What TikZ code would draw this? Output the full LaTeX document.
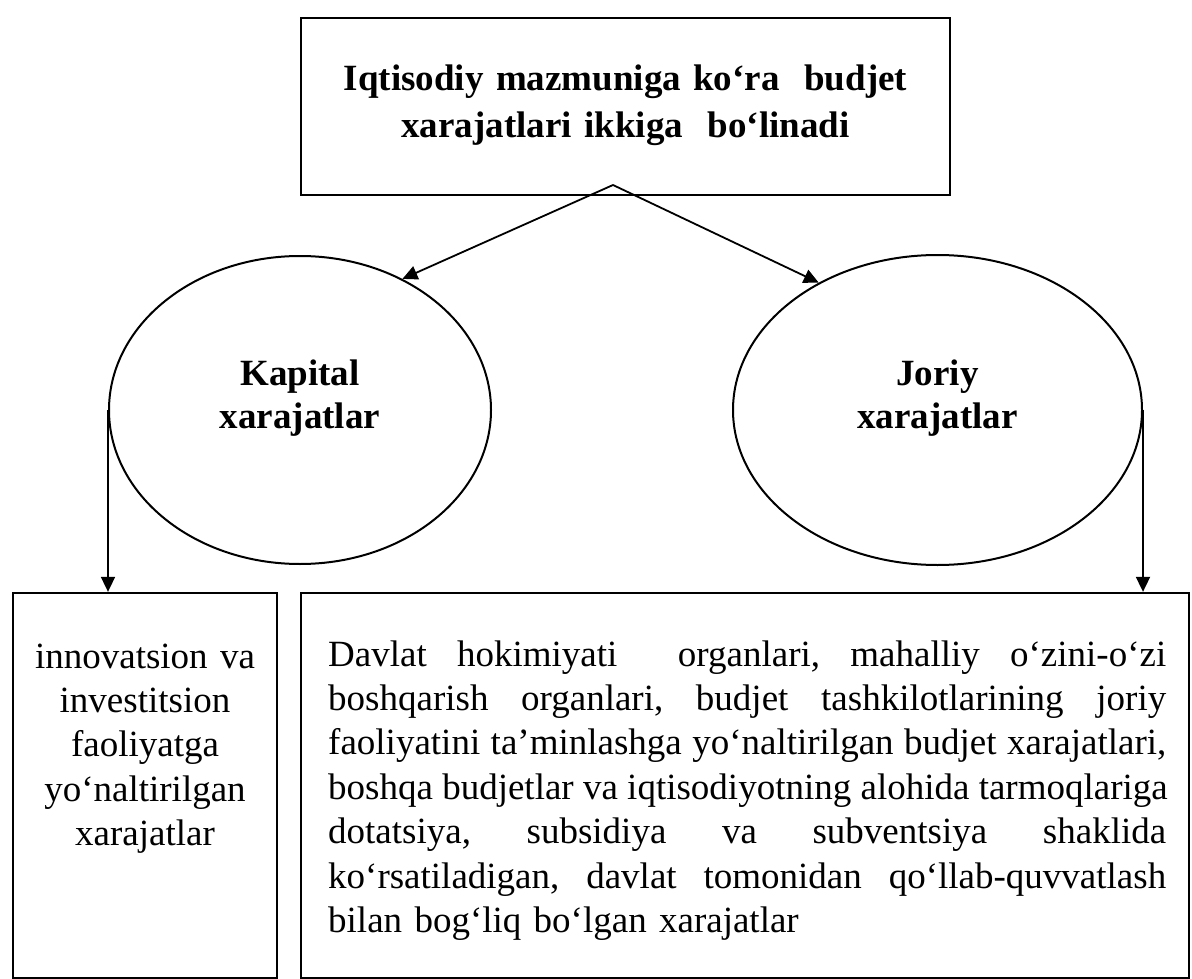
\documentclass[tikz,border=0pt]{standalone}
\usepackage{fontspec}
\setmainfont{Liberation Serif}
\usetikzlibrary{shapes.geometric,arrows.meta}
\newcommand\jline[1]{\leavevmode\hbox to 838pt{\frenchspacing\spaceskip=0.25em plus 1fil\relax #1}}
\begin{document}
\begin{tikzpicture}[x=1pt,y=-1pt,
  box/.style={draw,line width=2.3pt,rectangle,inner sep=0pt},
  oval/.style={draw,line width=2pt,ellipse,inner sep=0pt},
  conn/.style={line width=1.8pt,-{Triangle[length=15pt,width=14pt]}},
  bodytext/.style={inner sep=0pt,font=\fontsize{37}{44.4}\selectfont},
  headtext/.style={inner sep=0pt,font=\fontsize{37}{47}\selectfont\bfseries},
  ovaltext/.style={inner sep=0pt,font=\fontsize{37}{43}\selectfont\bfseries}]
\useasboundingbox (0,0) rectangle (1192,979);

% top box
\node[box,minimum width=649pt,minimum height=177pt] (top) at (625.5,106.5) {};
\node[headtext,text width=640pt,align=center,anchor=base] (toptext) at (625.5,91)
  {Iqtisodiy mazmuniga ko‘ra~ budjet\\xarajatlari ikkiga~ bo‘linadi};

% ellipses
\node[oval,minimum width=382pt,minimum height=308pt] (kap) at (300,410) {};
\node[ovaltext,text width=300pt,align=center,anchor=base] (kaptext) at (300,385) {Kapital\\xarajatlar};
\node[oval,minimum width=409pt,minimum height=310pt] (jor) at (937.5,410) {};
\node[ovaltext,text width=300pt,align=center,anchor=base] (jortext) at (937.5,385) {Joriy\\xarajatlar};

% bottom boxes
\node[box,minimum width=264pt,minimum height=385pt] (ibox) at (145,785.5) {};
\node[bodytext,text width=250pt,align=center,anchor=base] (itext) at (145,668)
  {innovatsion va\\investitsion\\faoliyatga\\yo‘naltirilgan\\xarajatlar};

\node[box,minimum width=888pt,minimum height=385pt] (jbox) at (745,785.5) {};
\node[bodytext,text width=838pt,align=left,anchor=base west] (jtext) at (328,666)
  {\jline{Davlat hokimiyati \ organlari, mahalliy o‘zini-o‘zi}\\
   \jline{boshqarish organlari, budjet tashkilotlarining joriy}\\
   \jline{faoliyatini ta’minlashga yo‘naltirilgan budjet xarajatlari,}\\
   \jline{boshqa budjetlar va iqtisodiyotning alohida tarmoqlariga}\\
   \jline{dotatsiya, subsidiya va subventsiya shaklida}\\
   \jline{ko‘rsatiladigan, davlat tomonidan qo‘llab-quvvatlash}\\
   bilan bog‘liq bo‘lgan xarajatlar};

% connectors
\coordinate (apex) at (613,185);
\draw[conn] (apex) -- (kap.52);
\draw[conn] (apex) -- (jor.133);
\draw[conn] (kap.west) -- (kap.west |- ibox.north);
\draw[conn] (jor.east) -- (jor.east |- jbox.north);
\end{tikzpicture}
\end{document}
